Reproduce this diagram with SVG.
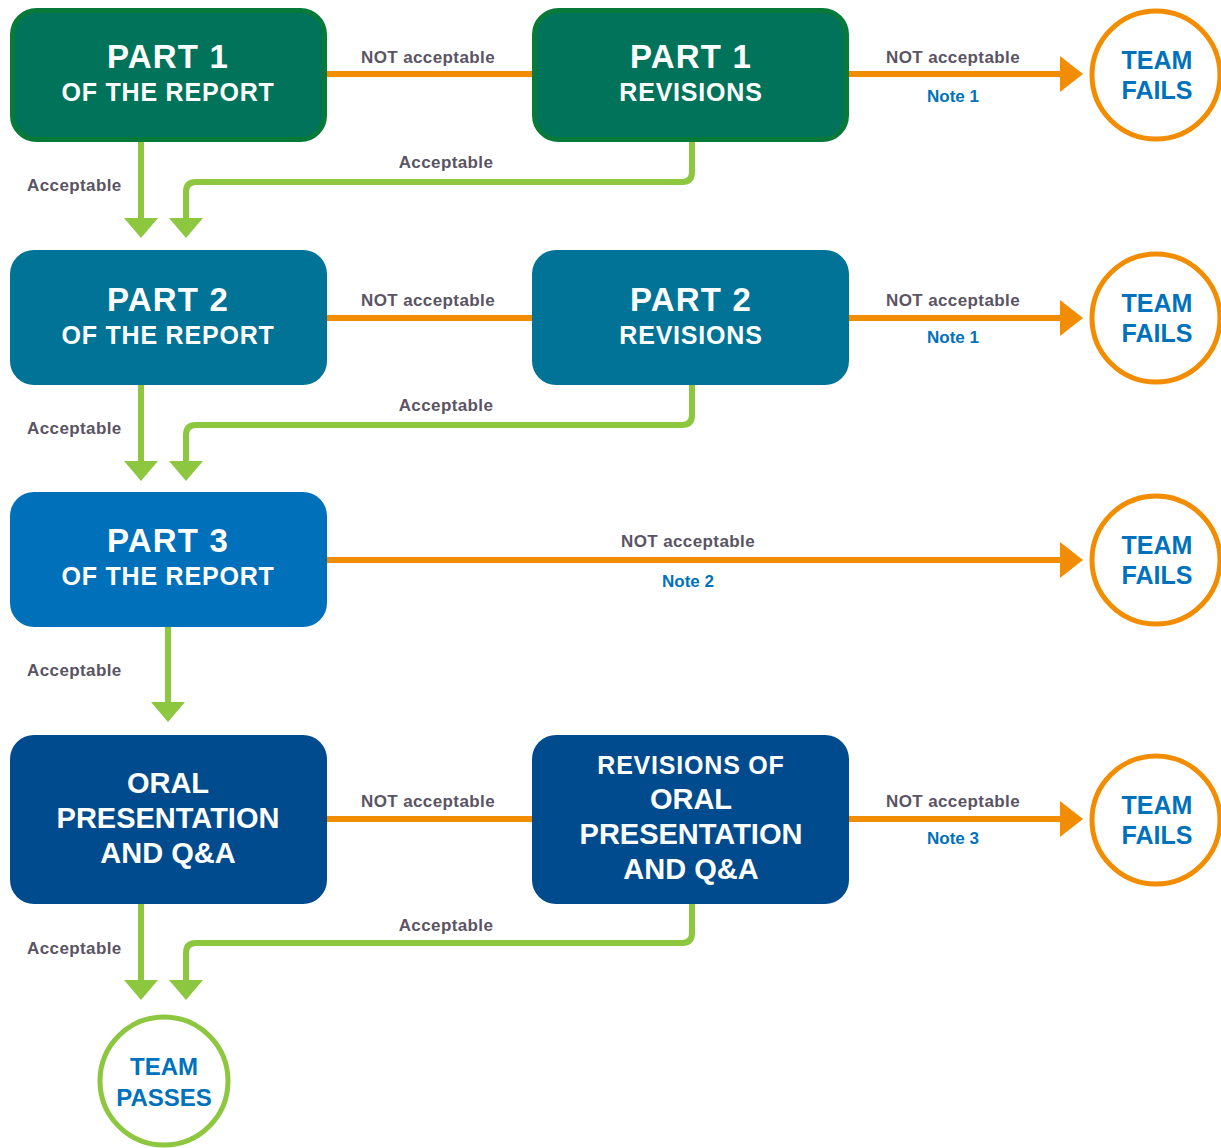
<svg xmlns="http://www.w3.org/2000/svg" width="1221" height="1148" viewBox="0 0 1221 1148">
<style>
.node text{font-family:"Liberation Sans",Arial,sans-serif;font-weight:bold;fill:#fff;text-anchor:middle}
.big{font-size:33px;letter-spacing:1.2px}
.sub{font-size:25px;letter-spacing:0.8px}
.mid{font-size:29px}
.circ text{font-family:"Liberation Sans",Arial,sans-serif;font-weight:bold;fill:#0072BC;text-anchor:middle;font-size:25px}
.circ .fail{fill:#fff;stroke:#F28C00;stroke-width:5}
.circ .pass{fill:#fff;stroke:#8DC63F;stroke-width:5}
.lbl{font-family:"Liberation Sans",Arial,sans-serif;font-weight:bold;font-size:17px;letter-spacing:0.4px;fill:#5A5464}
.note{font-family:"Liberation Sans",Arial,sans-serif;font-weight:bold;font-size:17px;fill:#0072BC;text-anchor:middle}
.or{stroke:#F28C00;stroke-width:6;fill:none}
.gr{stroke:#8DC63F;stroke-width:6;fill:none;stroke-linejoin:round}
.oh{fill:#F28C00}
.gh{fill:#8DC63F}
</style>
<g id="connectors">
  <!-- orange lines -->
  <line class="or" x1="327" y1="74" x2="533" y2="74"/>
  <line class="or" x1="849" y1="74" x2="1062" y2="74"/>
  <polygon class="oh" points="1060,56 1083,74 1060,92"/>
  <line class="or" x1="327" y1="318" x2="533" y2="318"/>
  <line class="or" x1="849" y1="318" x2="1062" y2="318"/>
  <polygon class="oh" points="1060,300 1083,318 1060,336"/>
  <line class="or" x1="327" y1="560" x2="1062" y2="560"/>
  <polygon class="oh" points="1060,542 1083,560 1060,578"/>
  <line class="or" x1="327" y1="819" x2="533" y2="819"/>
  <line class="or" x1="849" y1="819" x2="1062" y2="819"/>
  <polygon class="oh" points="1060,801 1083,819 1060,837"/>
  <!-- green lines row 1 -->
  <line class="gr" x1="141" y1="142" x2="141" y2="220"/>
  <polygon class="gh" points="124,218 158,218 141,238"/>
  <path class="gr" d="M692,142 V172 Q692,182 682,182 H196 Q186,182 186,192 V220"/>
  <polygon class="gh" points="169,218 203,218 186,238"/>
  <!-- row 2 -->
  <line class="gr" x1="141" y1="385" x2="141" y2="463"/>
  <polygon class="gh" points="124,461 158,461 141,481"/>
  <path class="gr" d="M692,385 V415 Q692,425 682,425 H196 Q186,425 186,435 V463"/>
  <polygon class="gh" points="169,461 203,461 186,481"/>
  <!-- row 3 -->
  <line class="gr" x1="168" y1="627" x2="168" y2="704"/>
  <polygon class="gh" points="151,702 185,702 168,722"/>
  <!-- row 4 -->
  <line class="gr" x1="141" y1="904" x2="141" y2="982"/>
  <polygon class="gh" points="124,980 158,980 141,1000"/>
  <path class="gr" d="M692,904 V933 Q692,943 682,943 H196 Q186,943 186,953 V982"/>
  <polygon class="gh" points="169,980 203,980 186,1000"/>
  <!-- labels -->
  <text class="lbl" x="428" y="63" text-anchor="middle">NOT acceptable</text>
  <text class="lbl" x="953" y="63" text-anchor="middle">NOT acceptable</text>
  <text class="note" x="953" y="102">Note 1</text>
  <text class="lbl" x="27" y="191">Acceptable</text>
  <text class="lbl" x="446" y="168" text-anchor="middle">Acceptable</text>
  <text class="lbl" x="428" y="306" text-anchor="middle">NOT acceptable</text>
  <text class="lbl" x="953" y="306" text-anchor="middle">NOT acceptable</text>
  <text class="note" x="953" y="343">Note 1</text>
  <text class="lbl" x="27" y="434">Acceptable</text>
  <text class="lbl" x="446" y="411" text-anchor="middle">Acceptable</text>
  <text class="lbl" x="688" y="547" text-anchor="middle">NOT acceptable</text>
  <text class="note" x="688" y="587">Note 2</text>
  <text class="lbl" x="27" y="676">Acceptable</text>
  <text class="lbl" x="428" y="807" text-anchor="middle">NOT acceptable</text>
  <text class="lbl" x="953" y="807" text-anchor="middle">NOT acceptable</text>
  <text class="note" x="953" y="844">Note 3</text>
  <text class="lbl" x="27" y="954">Acceptable</text>
  <text class="lbl" x="446" y="931" text-anchor="middle">Acceptable</text>
</g>
<g id="part1" class="node">
  <rect x="12.5" y="10.5" width="312" height="129" rx="24" fill="#00735A" stroke="#077A3A" stroke-width="5"/>
  <text class="big" x="168" y="68">PART 1</text>
  <text class="sub" x="168" y="101">OF THE REPORT</text>
</g>
<g id="part1rev" class="node">
  <rect x="534.5" y="10.5" width="312" height="129" rx="24" fill="#00735A" stroke="#077A3A" stroke-width="5"/>
  <text class="big" x="691" y="68">PART 1</text>
  <text class="sub" x="691" y="101">REVISIONS</text>
</g>
<g id="part2" class="node">
  <rect x="10" y="250" width="317" height="135" rx="24" fill="#007396"/>
  <text class="big" x="168" y="311">PART 2</text>
  <text class="sub" x="168" y="344">OF THE REPORT</text>
</g>
<g id="part2rev" class="node">
  <rect x="532" y="250" width="317" height="135" rx="24" fill="#007396"/>
  <text class="big" x="691" y="311">PART 2</text>
  <text class="sub" x="691" y="344">REVISIONS</text>
</g>
<g id="part3" class="node">
  <rect x="10" y="492" width="317" height="135" rx="24" fill="#0070BA"/>
  <text class="big" x="168" y="552">PART 3</text>
  <text class="sub" x="168" y="585">OF THE REPORT</text>
</g>
<g id="oral" class="node">
  <rect x="10" y="735" width="317" height="169" rx="24" fill="#004B8D"/>
  <text class="mid" x="168" y="793">ORAL</text>
  <text class="mid" x="168" y="828">PRESENTATION</text>
  <text class="mid" x="168" y="863">AND Q&amp;A</text>
</g>
<g id="oralrev" class="node">
  <rect x="532" y="735" width="317" height="169" rx="24" fill="#004B8D"/>
  <text class="sub" x="691" y="774">REVISIONS OF</text>
  <text class="mid" x="691" y="809">ORAL</text>
  <text class="mid" x="691" y="844">PRESENTATION</text>
  <text class="mid" x="691" y="879">AND Q&amp;A</text>
</g>
<g id="fail1" class="circ">
  <circle class="fail" cx="1156" cy="75" r="64"/>
  <text x="1157" y="69">TEAM</text>
  <text x="1157" y="99">FAILS</text>
</g>
<g id="fail2" class="circ">
  <circle class="fail" cx="1156" cy="318" r="64"/>
  <text x="1157" y="312">TEAM</text>
  <text x="1157" y="342">FAILS</text>
</g>
<g id="fail3" class="circ">
  <circle class="fail" cx="1156" cy="560" r="64"/>
  <text x="1157" y="554">TEAM</text>
  <text x="1157" y="584">FAILS</text>
</g>
<g id="fail4" class="circ">
  <circle class="fail" cx="1156" cy="820" r="64"/>
  <text x="1157" y="814">TEAM</text>
  <text x="1157" y="844">FAILS</text>
</g>
<g id="pass" class="circ">
  <circle class="pass" cx="164" cy="1081" r="64"/>
  <text x="164" y="1075" style="font-size:24px">TEAM</text>
  <text x="164" y="1106" style="font-size:24px">PASSES</text>
</g>
</svg>
